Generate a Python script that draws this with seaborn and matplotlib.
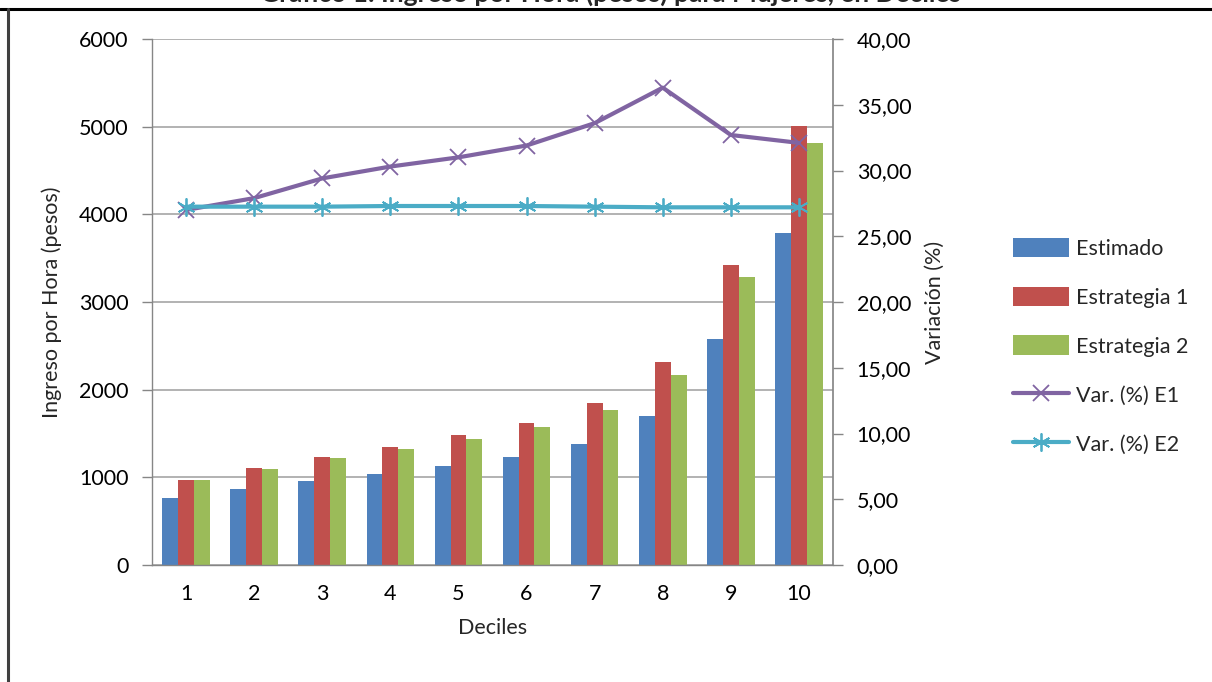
import matplotlib
matplotlib.use("Agg")
import matplotlib.pyplot as plt
from matplotlib.lines import Line2D
from matplotlib.patches import Patch
from matplotlib.ticker import FuncFormatter, MultipleLocator
import seaborn as sns
import pandas as pd
import numpy as np

# Ingreso por hora (pesos) por decil
deciles = ["1", "2", "3", "4", "5", "6", "7", "8", "9", "10"]
estimado = [760, 870, 955, 1035, 1125, 1230, 1385, 1705, 2575, 3785]
estrategia1 = [965, 1110, 1235, 1350, 1480, 1625, 1850, 2315, 3420, 5005]
estrategia2 = [965, 1100, 1215, 1320, 1440, 1570, 1765, 2165, 3280, 4815]

# Variación porcentual respecto del estimado
var_e1 = [27.0, 27.9, 29.4, 30.3, 31.0, 31.9, 33.6, 36.3, 32.7, 32.1]
var_e2 = [27.25, 27.25, 27.25, 27.3, 27.3, 27.3, 27.25, 27.2, 27.2, 27.2]

series_names = ["Estimado", "Estrategia 1", "Estrategia 2"]
bar_colors = ["#4F81BD", "#C0504D", "#9BBB59"]
line_colors = ["#8064A2", "#4BACC6"]

sns.set_theme(style="white")
plt.rcParams["font.family"] = ["Lato", "DejaVu Sans"]

df = pd.DataFrame({
    "Decil": deciles * 3,
    "Ingreso": estimado + estrategia1 + estrategia2,
    "Serie": sum([[s] * len(deciles) for s in series_names], []),
})

fig = plt.figure(figsize=(12.12, 6.82), dpi=100)
ax = fig.add_axes([152 / 1212, 117 / 682, 681 / 1212, 526 / 682])

sns.barplot(data=df, x="Decil", y="Ingreso", hue="Serie", order=deciles,
            hue_order=series_names, palette=bar_colors, width=0.7,
            saturation=1, edgecolor="none", linewidth=0, legend=False, ax=ax, zorder=2)

grid_c = "#A6A6A6"
axis_c = "#868686"
ax.set_ylim(0, 6000)
ax.set_xlim(-0.5, len(deciles) - 0.5)
ax.yaxis.set_major_locator(MultipleLocator(1000))
ax.grid(axis="y", color=grid_c, linewidth=1.2, zorder=0)
ax.set_axisbelow(True)
for side in ["top", "right"]:
    ax.spines[side].set_visible(False)
for side in ["left", "bottom"]:
    ax.spines[side].set_color(axis_c)
    ax.spines[side].set_linewidth(1.0)

# category boundary ticks on the x axis
ax.set_xticks(np.arange(len(deciles)))
ax.set_xticklabels(deciles)
ax.set_xticks(np.arange(len(deciles) + 1) - 0.5, minor=True)
ax.tick_params(axis="x", which="major", length=0, pad=14, labelsize=15.5, colors="black")
ax.tick_params(axis="x", which="minor", length=7, width=1, color=axis_c, direction="out")
ax.tick_params(axis="y", length=7, width=1, color=axis_c, direction="out", pad=10,
               labelsize=15.5, labelcolor="black")
ax.set_xlabel("Deciles", fontsize=15.5, labelpad=10)
ax.set_ylabel("Ingreso por Hora (pesos)", fontsize=15.5, labelpad=12)

ax2 = ax.twinx()
x = np.arange(len(deciles))
sns.lineplot(x=x, y=var_e1, ax=ax2, color=line_colors[0], linewidth=3,
             marker="x", markersize=11, markeredgewidth=1.3,
             markeredgecolor=line_colors[0], zorder=3)
sns.lineplot(x=x, y=var_e2, ax=ax2, color=line_colors[1], linewidth=3,
             marker=(6, 2, 0), markersize=13, markeredgewidth=1.3,
             markeredgecolor=line_colors[1], zorder=3)
ax2.set_ylim(0, 40)
ax2.yaxis.set_major_locator(MultipleLocator(5))
ax2.yaxis.set_major_formatter(FuncFormatter(lambda v, p: f"{v:.2f}".replace(".", ",")))
for side in ["top", "left", "bottom"]:
    ax2.spines[side].set_visible(False)
ax2.spines["right"].set_color(axis_c)
ax2.tick_params(axis="y", length=7, width=1, color=axis_c, direction="out", pad=10,
                labelsize=15.5, labelcolor="black")
ax2.set_ylabel("Variación (%)", fontsize=15.5, labelpad=10)
ax2.grid(False)

handles = [Patch(facecolor=c, edgecolor="none") for c in bar_colors]
handles += [
    Line2D([0], [0], color=line_colors[0], linewidth=3, marker="x", markersize=11,
           markeredgewidth=1.3),
    Line2D([0], [0], color=line_colors[1], linewidth=3, marker=(6, 2, 0), markersize=13,
           markeredgewidth=1.3),
]
labels = series_names + ["Var. (%) E1", "Var. (%) E2"]
fig.legend(handles, labels, loc="center left", bbox_to_anchor=(1002 / 1212, 1 - 346 / 682),
           frameon=False, fontsize=15.5, handlelength=2.6, handleheight=1.0,
           labelspacing=1.3, handletextpad=0.35, borderpad=0)

# chart frame and heading along the top edge
fig.add_artist(Line2D([0, 1], [1 - 8.5 / 682] * 2, transform=fig.transFigure,
                      color="black", linewidth=2.2))
fig.add_artist(Line2D([7.5 / 1212] * 2, [0, 1 - 8.5 / 682], transform=fig.transFigure,
                      color="#404040", linewidth=2.2))
fig.text(610 / 1212, 1 - 1.5 / 682,
         "Gráfico 1: Ingreso por Hora (pesos) para Mujeres, en Deciles",
         ha="center", va="baseline", fontsize=19, fontweight="bold")

fig.savefig("out.png", dpi=100)
